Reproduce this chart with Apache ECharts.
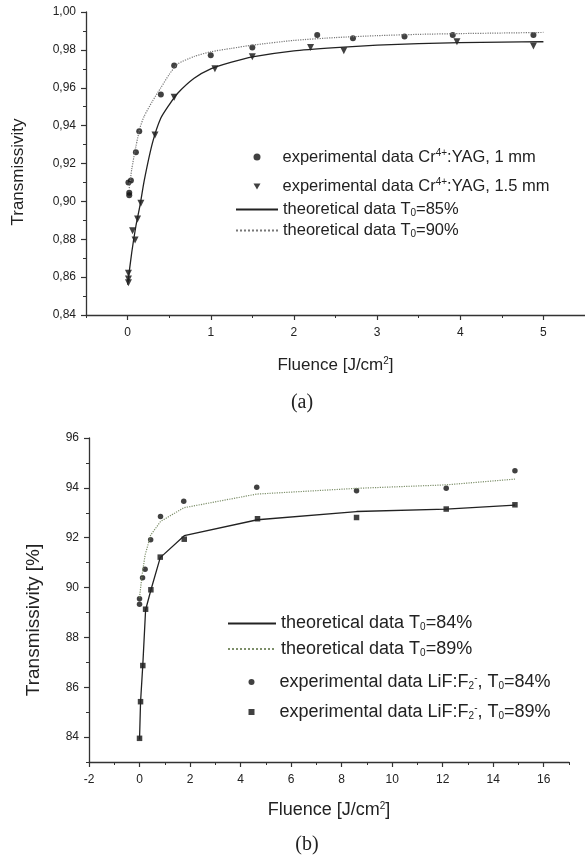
<!DOCTYPE html>
<html>
<head>
<meta charset="utf-8">
<script src="https://cdn.jsdelivr.net/npm/echarts@6/dist/echarts.min.js"></script>
<style>
  html, body { margin: 0; padding: 0; background: #fff; }
  #chart { width: 585px; height: 859px; }
</style>
</head>
<body>
<div id="chart"></div>
<script>
// ---- (a) Cr4+:YAG ----
var expX1mm = [0.01, 0.04, 0.02, 0.02, 0.10, 0.14, 0.40, 0.56, 1.00, 1.50, 2.28, 2.71, 3.33, 3.91, 4.88];
var expY1mm = [0.910, 0.911, 0.9046, 0.9033, 0.926, 0.937, 0.9565, 0.9718, 0.9771, 0.9812, 0.9879, 0.9861, 0.9870, 0.9879, 0.9879];
var expX15mm = [0.01, 0.01, 0.01, 0.06, 0.09, 0.12, 0.16, 0.33, 0.56, 1.05, 1.50, 2.20, 2.60, 3.96, 4.88];
var expY15mm = [0.862, 0.859, 0.857, 0.8845, 0.8796, 0.8907, 0.899, 0.935, 0.955, 0.970, 0.9764, 0.9812, 0.9796, 0.9843, 0.982];
var thX85 = [0.0, 0.05, 0.1, 0.15, 0.2, 0.3, 0.4, 0.5, 0.6, 0.8, 1.0, 1.25, 1.5, 2.0, 2.5, 3.0, 3.5, 4.0, 4.5, 5.0];
var thY85 = [0.856, 0.873, 0.887, 0.898, 0.911, 0.931, 0.944, 0.951, 0.957, 0.965, 0.970, 0.9735, 0.9763, 0.9795, 0.9812, 0.9825, 0.9833, 0.9838, 0.9841, 0.9843];
var thX90 = [0.02, 0.05, 0.1, 0.15, 0.2, 0.3, 0.4, 0.5, 0.6, 0.8, 1.0, 1.25, 1.5, 2.0, 2.5, 3.0, 3.5, 4.0, 4.5, 5.0];
var thY90 = [0.907, 0.917, 0.929, 0.939, 0.945, 0.953, 0.960, 0.967, 0.9725, 0.9765, 0.979, 0.9808, 0.9825, 0.9850, 0.9865, 0.9875, 0.9882, 0.9886, 0.9889, 0.9892];
var xTicksA = [0, 1, 2, 3, 4, 5];
var yTicksA = [0.84, 0.86, 0.88, 0.90, 0.92, 0.94, 0.96, 0.98, 1.00];

// ---- (b) LiF:F2- ----
var thBx84 = [0.0, 0.04, 0.13, 0.24, 0.45, 0.82, 1.77, 4.67, 8.59, 12.14, 14.86];
var thBy84 = [83.9, 85.4, 86.9, 89.1, 89.9, 91.2, 92.08, 92.72, 93.05, 93.15, 93.31];
var thBx89 = [0.0, 0.1, 0.22, 0.44, 0.83, 1.75, 4.64, 8.59, 12.14, 14.86];
var thBy89 = [89.6, 90.5, 91.3, 92.1, 92.65, 93.2, 93.75, 93.98, 94.12, 94.35];
var expBx84 = [0.0, 0.0, 0.12, 0.22, 0.44, 0.83, 1.75, 4.64, 8.59, 12.14, 14.86];
var expBy84 = [89.55, 89.33, 90.39, 90.73, 91.92, 92.85, 93.46, 94.02, 93.88, 93.98, 94.69];
var expBx89 = [0.0, 0.04, 0.13, 0.24, 0.45, 0.82, 1.77, 4.67, 8.59, 12.14, 14.86];
var expBy89 = [83.95, 85.42, 86.87, 89.13, 89.91, 91.22, 91.94, 92.76, 92.81, 93.15, 93.32];
var xTicksB = [-2, 0, 2, 4, 6, 8, 10, 12, 14, 16];
var yTicksB = [84, 86, 88, 90, 92, 94, 96];

var legendNames = {
  'exp1': 'experimental data Cr{sup|4+}:YAG, 1 mm',
  'exp15': 'experimental data Cr{sup|4+}:YAG, 1.5 mm',
  'th85': 'theoretical data T{sub|0}=85%',
  'th90': 'theoretical data T{sub|0}=90%',
  'thB84': 'theoretical data T{sub|0}=84%',
  'thB89': 'theoretical data T{sub|0}=89%',
  'expB84': 'experimental data LiF:F{sub|2}{sup|-}, T{sub|0}=84%',
  'expB89': 'experimental data LiF:F{sub|2}{sup|-}, T{sub|0}=89%'
};

function pairs(xs, ys) {
  return xs.map(function (x, i) { return [x, ys[i]]; });
}

var ink = '#222';
var font = 'Liberation Sans, Arial, sans-serif';
var richSS = {
  sup: { fontSize: 10, padding: [0, 0, 8, 0] },
  sub: { fontSize: 10, padding: [8, 0, 0, 0] },
  gapA: { width: 17 },
  gapB: { width: 20 }
};

// main axis: line, major ticks, labels; second axis on top of it: only the small ticks
function axisPair(grid, min, max, step, major, fmt, name, nameGap, nameSize, namePad) {
  var main = {
    type: 'value', gridIndex: grid, min: min, max: max, interval: step,
    splitLine: { show: false },
    axisLine: { show: true, onZero: false, lineStyle: { color: '#333', width: 1.3 } },
    axisTick: { show: true, customValues: major, length: 5, lineStyle: { color: '#333', width: 1.2 } },
    axisLabel: { customValues: major, formatter: fmt, color: ink, fontSize: 12, fontFamily: font, margin: 10 },
    name: name, nameLocation: 'middle', nameGap: nameGap,
    nameTextStyle: { color: ink, fontSize: nameSize, fontFamily: font, padding: namePad, rich: richSS }
  };
  var minor = {
    type: 'value', gridIndex: grid, min: min, max: max, interval: step,
    splitLine: { show: false },
    axisLine: { show: false, onZero: false },
    axisTick: { show: true, length: 3, lineStyle: { color: '#333', width: 1 } },
    axisLabel: { show: false }
  };
  return [main, minor];
}

var xa = axisPair(0, -0.5, 5.5, 0.5, xTicksA, function (v) { return String(v); },
  'Fluence [J/cm{sup|2}]', 41, 17, [0, 0, 0, 0]);
var ya = axisPair(0, 0.84, 1.0, 0.01, yTicksA, function (v) { return v.toFixed(2).replace('.', ','); },
  'Transmissivity', 59, 17, [0, 17, 0, 0]);
var xb = axisPair(1, -2, 17, 1, xTicksB, function (v) { return String(v); },
  'Fluence [J/cm{sup|2}]', 39, 18, [0, 0, 0, 0]);
var yb = axisPair(1, 83, 96, 1, yTicksB, function (v) { return String(v); },
  'Transmissivity [%]', 46, 19, [0, 40, 0, 0]);
xa[0].axisLabel.margin = 12; xb[0].axisLabel.margin = 12;
xa[1].position = 'bottom'; xb[1].position = 'bottom';
ya[1].position = 'left'; yb[1].position = 'left';

function legendBox(names, left, top, w, h, gap, size, pad) {
  return {
    orient: 'vertical', left: left, top: top, itemWidth: w, itemHeight: h, itemGap: gap,
    data: names, selectedMode: false,
    // line items: hide the dot ECharts puts in the middle of the line icon
    itemStyle: pad ? {} : { color: 'rgba(0,0,0,0)', borderWidth: 0 },
    formatter: function (n) { return (pad ? '{' + pad + '| }' : '') + legendNames[n]; },
    textStyle: { color: ink, fontSize: size, fontFamily: font, rich: richSS }
  };
}

// downward triangle icon for the 1.5 mm entry
var legendA1 = legendBox(['exp1', { name: 'exp15', icon: 'path://M0,0L10,0L5,8.5Z' }],
  248.5, 143, 7, 7, 12, 16.5, 'gapA');

var myChart = echarts.init(document.getElementById('chart'));
var option = {
  animation: false,
  backgroundColor: '#fff',
  textStyle: { fontFamily: font },
  title: [
    { text: '(a)', left: 297, top: 388, textAlign: 'center',
      textStyle: { fontFamily: 'Liberation Serif, serif', fontWeight: 'normal', fontSize: 20, color: ink } },
    { text: '(b)', left: 302, top: 830, textAlign: 'center',
      textStyle: { fontFamily: 'Liberation Serif, serif', fontWeight: 'normal', fontSize: 20, color: ink } }
  ],
  grid: [
    { left: 86, top: 12, width: 502, height: 303 },
    { left: 89, top: 438, width: 480, height: 324 }
  ],
  legend: [
    legendA1,
    legendBox(['th85', 'th90'], 230, 196, 42, 10, 3.5, 16.5, null),
    legendBox(['thB84', 'thB89'], 222, 609.5, 48, 10, 7.5, 18, null),
    legendBox(['expB84', 'expB89'], 243.5, 668, 6, 6, 12, 18, 'gapB')
  ],
  xAxis: [xa[0], xa[1], xb[0], xb[1]],
  yAxis: [ya[0], ya[1], yb[0], yb[1]],
  series: [
    { name: 'th85', type: 'line', xAxisIndex: 0, yAxisIndex: 0, data: pairs(thX85, thY85),
      symbol: 'none', smooth: 0.2, lineStyle: { color: '#222', width: 1.3 }, itemStyle: { color: '#222' } },
    { name: 'th90', type: 'line', xAxisIndex: 0, yAxisIndex: 0, data: pairs(thX90, thY90),
      symbol: 'none', smooth: 0.2, lineStyle: { color: '#777', width: 1.2, type: 'dotted' }, itemStyle: { color: '#777' } },
    { name: 'exp1', type: 'scatter', xAxisIndex: 0, yAxisIndex: 0, data: pairs(expX1mm, expY1mm),
      symbol: 'circle', symbolSize: 6, itemStyle: { color: '#111' } },
    { name: 'exp15', type: 'scatter', xAxisIndex: 0, yAxisIndex: 0, data: pairs(expX15mm, expY15mm),
      symbol: 'triangle', symbolRotate: 180, symbolSize: 7, itemStyle: { color: '#111' } },

    { name: 'thB84', type: 'line', xAxisIndex: 2, yAxisIndex: 2, data: pairs(thBx84, thBy84),
      symbol: 'none', lineStyle: { color: '#222', width: 1.3 }, itemStyle: { color: '#222' } },
    { name: 'thB89', type: 'line', xAxisIndex: 2, yAxisIndex: 2, data: pairs(thBx89, thBy89),
      symbol: 'none', lineStyle: { color: '#7d8f6a', width: 1.2, type: 'dotted' }, itemStyle: { color: '#7d8f6a' } },
    { name: 'expB84', type: 'scatter', xAxisIndex: 2, yAxisIndex: 2, data: pairs(expBx84, expBy84),
      symbol: 'circle', symbolSize: 5.5, itemStyle: { color: '#111' } },
    { name: 'expB89', type: 'scatter', xAxisIndex: 2, yAxisIndex: 2, data: pairs(expBx89, expBy89),
      symbol: 'rect', symbolSize: 5.5, itemStyle: { color: '#111' } }
  ]
};
myChart.setOption(option);
</script>
</body>
</html>
